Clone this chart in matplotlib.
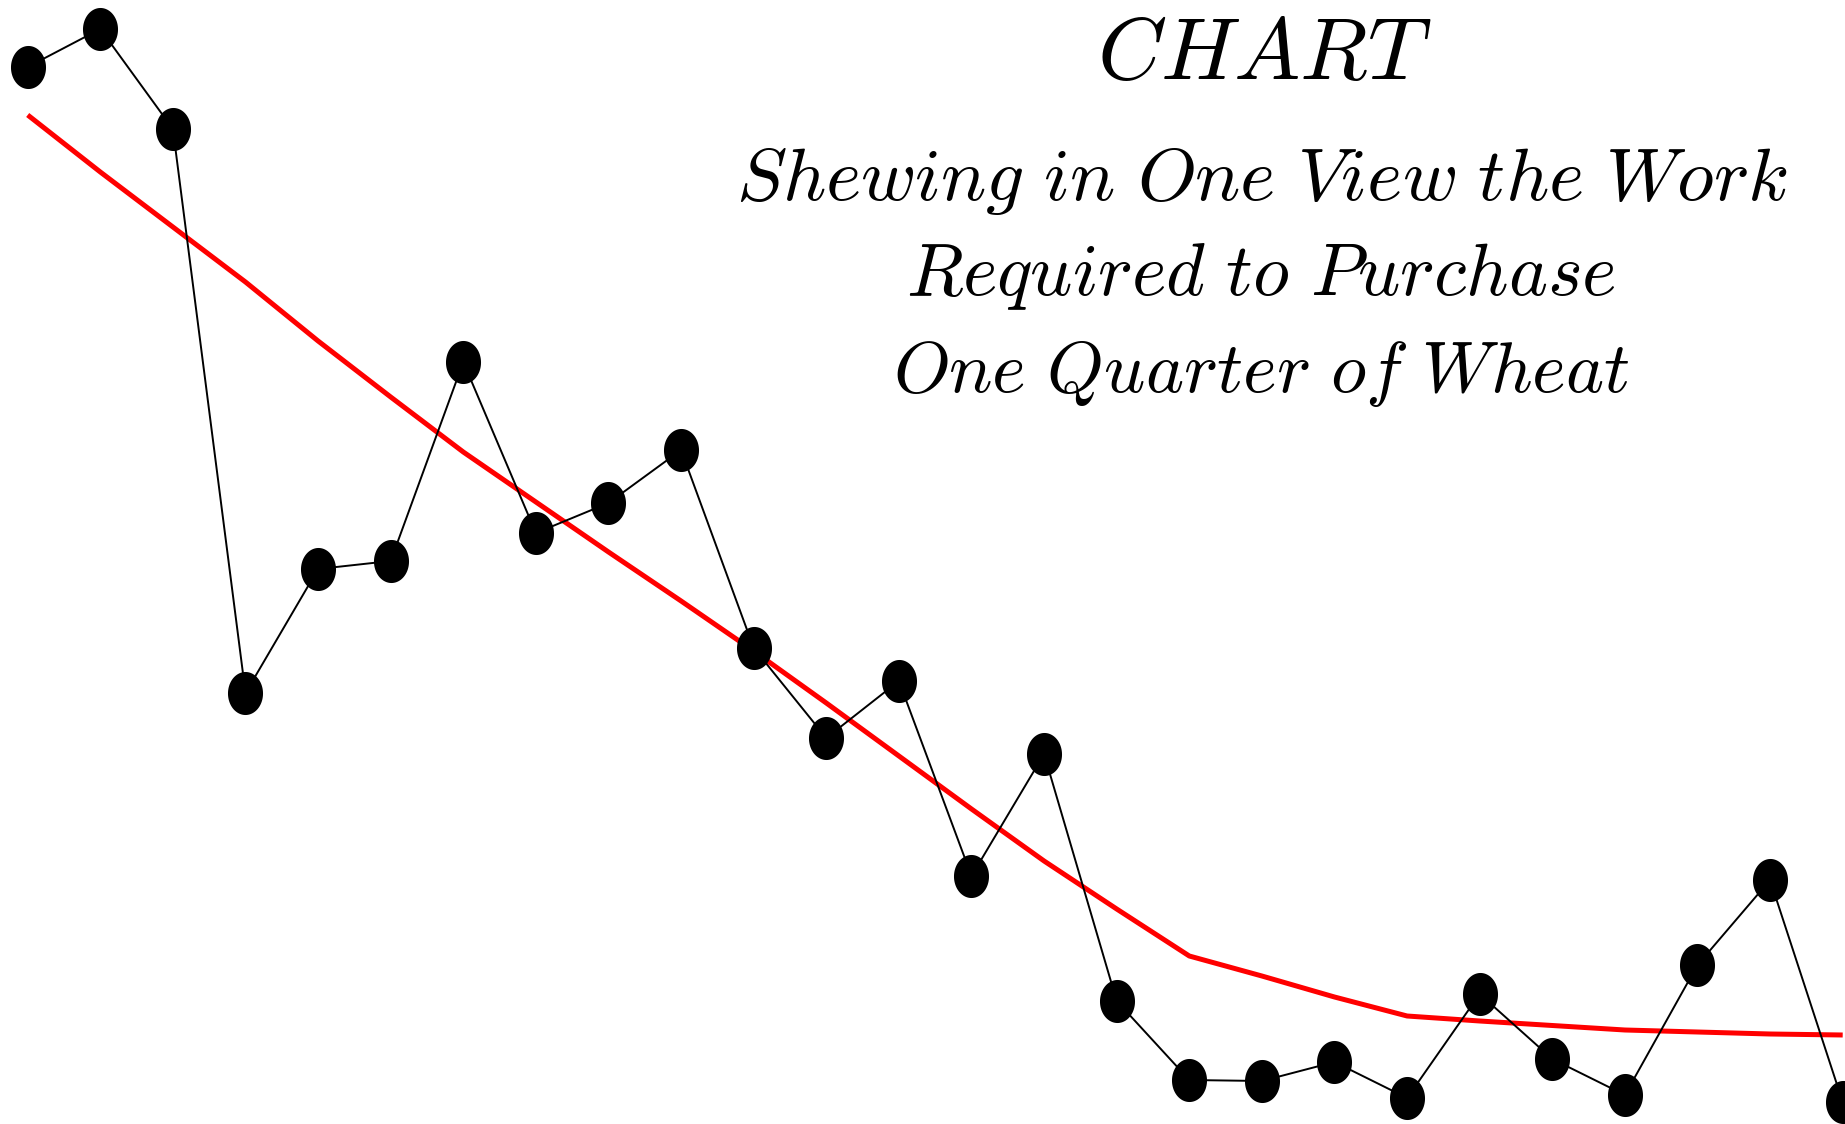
import numpy as np
import matplotlib
matplotlib.use("Agg")
import matplotlib.pyplot as plt
from matplotlib.path import Path

# ---- data ----
years = [1565, 1575, 1585, 1595, 1605, 1615, 1625, 1635, 1645, 1655,
         1665, 1675, 1685, 1695, 1705, 1715, 1725, 1735, 1745, 1755,
         1765, 1775, 1785, 1795, 1805, 1815]
labour = [105.7, 109.5, 99.5, 43.1, 55.5, 56.3, 76.2, 59.1, 62.1, 67.4,
          47.6, 38.6, 44.3, 24.8, 37.0, 12.3, 4.4, 4.3, 6.2, 2.6,
          13.0, 6.5, 2.9, 15.9, 24.4, 2.2]
smooth = [100.9, 95.2, 89.7, 84.2, 78.3, 72.7, 67.2, 62.2, 57.2, 52.3,
          47.3, 42.1, 36.8, 31.5, 26.3, 21.5, 16.8, 14.8, 12.7, 10.8,
          10.3, 9.85, 9.4, 9.2, 9.0, 8.9]

title = "CHART"
subtitle = ["Shewing in One View the Work",
            "Required to Purchase",
            "One Quarter of Wheat"]

W, H = 1845, 1124
plt.rcParams['mathtext.fontset'] = 'cm'
fig = plt.figure(figsize=(W / 100, H / 100), dpi=100)
fig.patch.set_facecolor('white')
ax = fig.add_axes([0, 0, 1, 1])
ax.set_axis_off()

# ellipse marker (taller than wide)
t = np.linspace(0, 2 * np.pi, 80)
ell = Path(np.column_stack([0.5 * 35 / 43 * np.cos(t), 0.5 * np.sin(t)]), closed=True)

ax.plot(years, smooth, color='#ff0000', lw=3.6, solid_capstyle='butt', zorder=2)
ax.plot(years, labour, color='black', lw=1.4, zorder=3)
ax.plot(years, labour, linestyle='none', marker=ell, markersize=31,
        color='black', markeredgewidth=0, zorder=4)

ax.set_xlim(1565 - 27.7 / 7.26, 1565 + (W - 27.7) / 7.26)
ax.set_ylim(0, 112.4)

# text, fitted to measured widths
renderer = fig.canvas.get_renderer()

def fit_text(s, xc, ybase, target_w):
    txt = fig.text(xc / W, 1 - ybase / H, r'$\mathit{' + s.replace(' ', r'\ ') + '}$',
                   ha='center', va='baseline', fontsize=50, color='black')
    w = txt.get_window_extent(renderer).width
    txt.set_fontsize(50 * target_w / w)
    return txt

fit_text(title, 1264, 79, 1432 - 1097)
fit_text(subtitle[0], 1262, 200, 1788 - 736)
fit_text(subtitle[1], 1261, 295, 1616 - 906)
fit_text(subtitle[2], 1261, 392, 1630 - 893)

fig.savefig("out.png", dpi=100, facecolor='white')
